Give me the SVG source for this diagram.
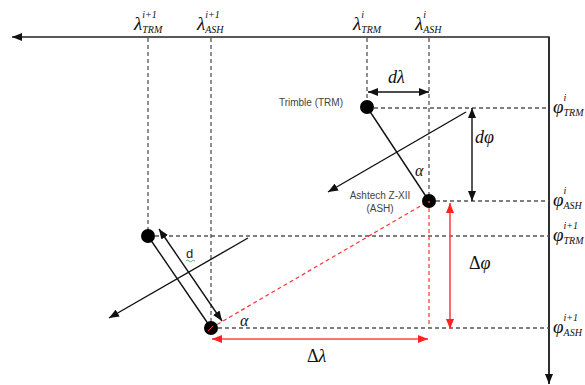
<svg xmlns="http://www.w3.org/2000/svg" width="585" height="385" viewBox="0 0 585 385">
<style>
.ax{stroke:#222;stroke-width:1.5;fill:none}
.dash{stroke:#555;stroke-width:1.3;stroke-dasharray:4,3;fill:none}
.rdash{stroke:#ff3333;stroke-width:1.2;stroke-dasharray:4,3;fill:none}
.ln{stroke:#111;stroke-width:1.4;fill:none}
.rln{stroke:#ff4444;stroke-width:1.6;fill:none}
.dot{fill:#000}
.sym{font-family:"Liberation Serif",serif;font-style:italic;fill:#111}
.lab{font-family:"Liberation Sans",Arial,sans-serif;font-size:10px;fill:#444}
</style>
<defs>
<marker id="ah" viewBox="0 0 10 8" refX="10" refY="4" markerWidth="10" markerHeight="8" markerUnits="userSpaceOnUse" orient="auto-start-reverse"><path d="M0,0 L10,4 L0,8 z" fill="#111"/></marker>
<marker id="rah" viewBox="0 0 10 8" refX="10" refY="4" markerWidth="10" markerHeight="8" markerUnits="userSpaceOnUse" orient="auto-start-reverse"><path d="M0,0 L10,4 L0,8 z" fill="#ff2222"/></marker>
</defs>
<g id="axes">
<path class="ax" d="M549,384 L549,37 L12,37" marker-end="url(#ah)"/>
<path class="ax" d="M549,37 L549,384" marker-end="url(#ah)"/>
</g>
<g id="connectors">
<path class="dash" d="M148,38 V236"/>
<path class="dash" d="M211,38 V328"/>
<path class="dash" d="M367,38 V107"/>
<path class="dash" d="M429,38 V201"/>
<path class="dash" d="M367,108 H549"/>
<path class="dash" d="M429,201 H549"/>
<path class="dash" d="M148,236 H549"/>
<path class="dash" d="M211,328 H549"/>
<path class="rdash" d="M211,328 L429,201"/>
<path class="rdash" d="M429,201 V328"/>
<path class="ln" d="M367,107 L429,201"/>
<path class="ln" d="M148,236 L211,328"/>
<path class="ln" d="M466,112 L328,192" marker-end="url(#ah)"/>
<path class="ln" d="M248,238 L109,318" marker-end="url(#ah)"/>
<path class="ln" d="M368,92 H429" marker-start="url(#ah)" marker-end="url(#ah)"/>
<path class="ln" d="M472,108 V201" marker-start="url(#ah)" marker-end="url(#ah)"/>
<path class="ln" d="M159,229 L222,321" stroke-width="1.1" marker-start="url(#ah)" marker-end="url(#ah)"/>
<path class="rln" d="M450,203 V329" marker-start="url(#rah)" marker-end="url(#rah)"/>
<path class="rln" d="M212,339 H428" marker-start="url(#rah)" marker-end="url(#rah)"/>
</g>
<g id="trm_i"><circle class="dot" cx="367" cy="107" r="7"/><text class="lab" x="343" y="106" text-anchor="end">Trimble (TRM)</text></g>
<g id="ash_i"><circle class="dot" cx="429" cy="201" r="7"/><circle cx="429" cy="202" r="1" fill="#ff3333"/><text class="lab" x="380" y="199" text-anchor="middle">Ashtech Z-XII</text><text class="lab" x="380" y="212" text-anchor="middle">(ASH)</text></g>
<g id="trm_i1"><circle class="dot" cx="148" cy="236" r="7"/></g>
<g id="ash_i1"><circle class="dot" cx="211" cy="328" r="7"/><path d="M208,331 L213,326" stroke="#ff3333" stroke-width="1"/></g>
<g id="labels">
<text class="sym" x="134" y="30" font-size="19">λ<tspan font-size="10" dy="-12">i+1</tspan><tspan font-size="10" dx="-14.5" dy="15">TRM</tspan></text>
<text class="sym" x="197" y="30" font-size="19">λ<tspan font-size="10" dy="-12">i+1</tspan><tspan font-size="10" dx="-14.5" dy="15">ASH</tspan></text>
<text class="sym" x="353" y="30" font-size="19">λ<tspan font-size="10" dy="-12">i</tspan><tspan font-size="10" dx="-2.8" dy="15">TRM</tspan></text>
<text class="sym" x="415" y="30" font-size="19">λ<tspan font-size="10" dy="-12">i</tspan><tspan font-size="10" dx="-2.8" dy="15">ASH</tspan></text>
<text class="sym" x="553" y="113" font-size="19">φ<tspan font-size="10" dy="-12">i</tspan><tspan font-size="10" dx="-2.8" dy="15">TRM</tspan></text>
<text class="sym" x="553" y="206" font-size="19">φ<tspan font-size="10" dy="-12">i</tspan><tspan font-size="10" dx="-2.8" dy="15">ASH</tspan></text>
<text class="sym" x="553" y="241" font-size="19">φ<tspan font-size="10" dy="-12">i+1</tspan><tspan font-size="10" dx="-14.5" dy="15">TRM</tspan></text>
<text class="sym" x="553" y="333" font-size="19">φ<tspan font-size="10" dy="-12">i+1</tspan><tspan font-size="10" dx="-14.5" dy="15">ASH</tspan></text>
<text class="sym" x="388" y="83" font-size="18">dλ</text>
<text class="sym" x="475" y="143" font-size="18">dφ</text>
<text class="sym" x="415" y="176" font-size="16">α</text>
<text class="sym" x="240" y="326" font-size="16">α</text>
<text class="sym" x="469" y="269" font-size="18"><tspan font-style="normal">Δ</tspan>φ</text>
<text class="sym" x="307" y="362" font-size="18"><tspan font-style="normal">Δ</tspan>λ</text>
<text x="186" y="258" font-family="Liberation Sans,Arial,sans-serif" font-size="13" fill="#222">d</text>
<path d="M186,261 q1.5,-1.5 3,0 t3,0 t3,0" stroke="#3a3" stroke-width="0.8" fill="none"/>
</g>
</svg>
